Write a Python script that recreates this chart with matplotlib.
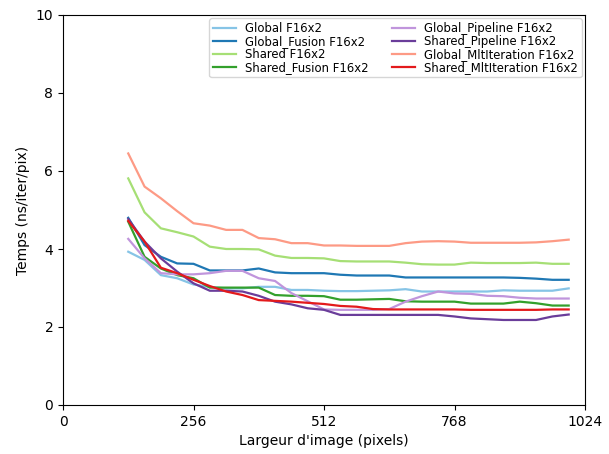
import matplotlib
matplotlib.use("Agg")
import matplotlib.pyplot as plt
import numpy as np

sizes = list(range(128, 993, 32))

global_f16 = [3.93, 3.72, 3.33, 3.25, 3.09, 3.03, 2.99, 2.99, 3.03, 3.03, 2.95, 2.95, 2.93, 2.92, 2.92, 2.93, 2.94, 2.97, 2.91, 2.91, 2.91, 2.91, 2.91, 2.94, 2.93, 2.93, 2.93, 2.99]
global_fusion = [4.80, 4.10, 3.80, 3.63, 3.62, 3.45, 3.45, 3.45, 3.50, 3.40, 3.38, 3.38, 3.38, 3.34, 3.32, 3.32, 3.32, 3.27, 3.27, 3.27, 3.27, 3.27, 3.27, 3.27, 3.26, 3.24, 3.21, 3.21]
shared_f16 = [5.81, 4.94, 4.53, 4.43, 4.32, 4.06, 4.00, 4.00, 3.99, 3.83, 3.77, 3.77, 3.76, 3.69, 3.68, 3.68, 3.68, 3.65, 3.61, 3.60, 3.60, 3.65, 3.64, 3.64, 3.64, 3.65, 3.62, 3.62]
shared_fusion = [4.70, 3.80, 3.50, 3.33, 3.25, 3.01, 3.01, 3.01, 3.01, 2.82, 2.80, 2.80, 2.79, 2.70, 2.70, 2.71, 2.72, 2.66, 2.65, 2.65, 2.65, 2.60, 2.60, 2.60, 2.65, 2.61, 2.55, 2.55]
global_pipeline = [4.26, 3.76, 3.38, 3.35, 3.35, 3.38, 3.44, 3.44, 3.25, 3.18, 2.87, 2.66, 2.45, 2.44, 2.44, 2.44, 2.46, 2.65, 2.79, 2.91, 2.86, 2.85, 2.80, 2.79, 2.75, 2.73, 2.73, 2.73]
shared_pipeline = [4.77, 4.19, 3.76, 3.42, 3.12, 2.93, 2.93, 2.91, 2.80, 2.65, 2.58, 2.48, 2.44, 2.31, 2.31, 2.31, 2.31, 2.31, 2.31, 2.31, 2.27, 2.22, 2.20, 2.18, 2.18, 2.18, 2.27, 2.32]
global_mlt = [6.45, 5.60, 5.30, 4.97, 4.66, 4.60, 4.49, 4.49, 4.28, 4.25, 4.15, 4.15, 4.09, 4.09, 4.08, 4.08, 4.08, 4.15, 4.19, 4.20, 4.19, 4.16, 4.16, 4.16, 4.16, 4.17, 4.20, 4.24]
shared_mlt = [4.72, 4.19, 3.52, 3.38, 3.21, 3.05, 2.91, 2.82, 2.69, 2.67, 2.65, 2.62, 2.59, 2.54, 2.52, 2.46, 2.45, 2.45, 2.45, 2.45, 2.45, 2.44, 2.44, 2.44, 2.44, 2.44, 2.45, 2.45]

labels = ["Global F16x2", "Global_Fusion F16x2", "Shared F16x2", "Shared_Fusion F16x2",
          "Global_Pipeline F16x2", "Shared_Pipeline F16x2", "Global_MltIteration F16x2", "Shared_MltIteration F16x2"]
series = [global_f16, global_fusion, shared_f16, shared_fusion,
          global_pipeline, shared_pipeline, global_mlt, shared_mlt]
colors = ["#86c4e6", "#1f78b4", "#a6df75", "#33a02c", "#c095dc", "#6a3d9a", "#fd9a85", "#e31a1c"]

xticks = [0, 256, 512, 768, 1024]

fig = plt.figure(figsize=(6.09, 4.54), dpi=100)
ax = fig.add_axes([63/609, 1-405/454, (585-63)/609, (405-15)/454])
for y, lab, c in zip(series, labels, colors):
    ax.plot(sizes, y, color=c, lw=1.6, label=lab)

ax.set_xlim(0, 1024)
ax.set_ylim(0, 10)
ax.set_xticks(xticks)
ax.set_yticks(range(0, 11, 2))
ax.set_xlabel("Largeur d'image (pixels)")
ax.set_ylabel("Temps (ns/iter/pix)")
ax.legend(loc="upper right", ncol=2, fontsize=8.33, handlelength=2.0,
          borderpad=0.3, labelspacing=0.0, columnspacing=2.0, handletextpad=0.8, borderaxespad=0.3)
fig.savefig("out.png", dpi=100)
